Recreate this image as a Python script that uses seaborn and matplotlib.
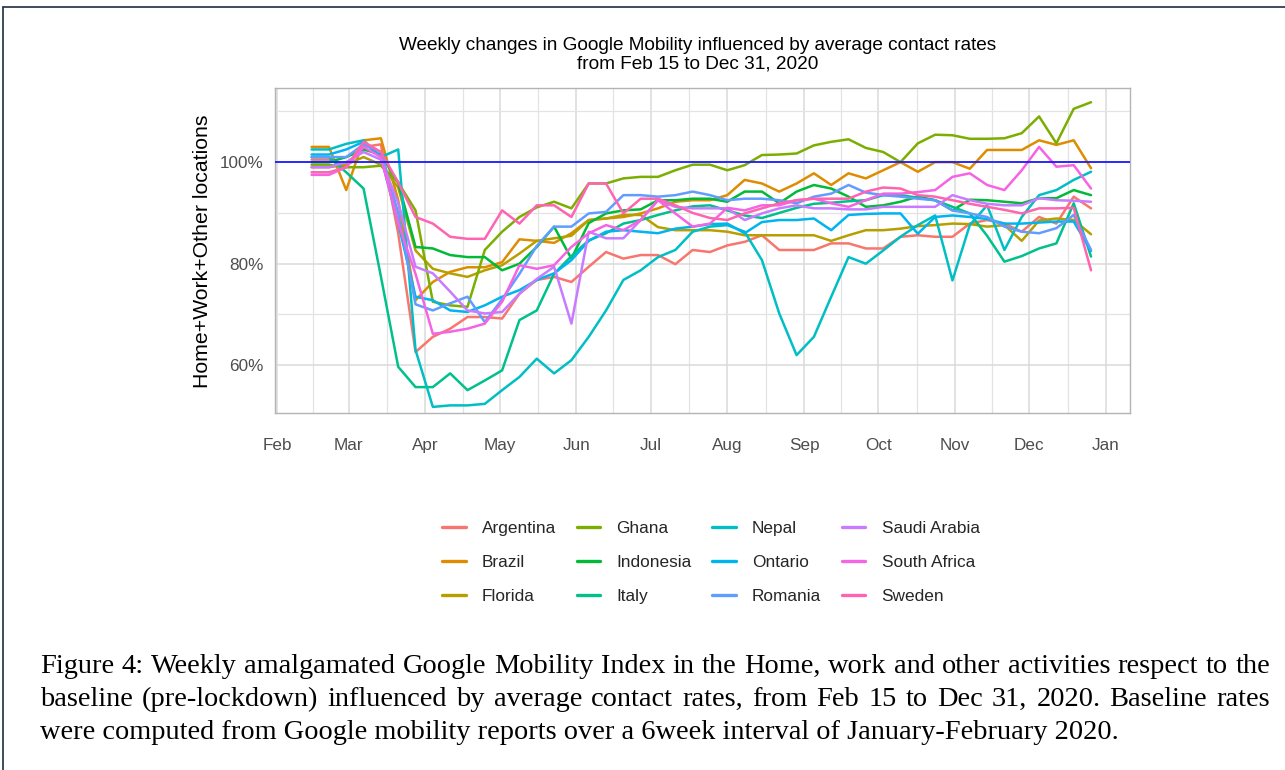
import numpy as np
import pandas as pd
import matplotlib
matplotlib.use("Agg")
import matplotlib.pyplot as plt
import matplotlib.dates as mdates
from matplotlib.lines import Line2D
import seaborn as sns

# --- dados (índice semanal, % da linha de base) ---
start_date = "2020-02-15"
n_weeks = 46

regions = ["Argentina", "Brazil", "Florida", "Ghana", "Indonesia", "Italy",
           "Nepal", "Ontario", "Romania", "Saudi Arabia", "South Africa", "Sweden"]

argentina = [100.5, 100.5, 99.5, 103, 103.5, 86, 62.6, 65.6, 67.2, 69.5, 69.5, 69.2, 74.1, 76.8, 77.4, 76.4,
             79.4, 82.3, 81, 81.7, 81.7, 79.9, 82.7, 82.3, 83.6, 84.3, 85.6, 82.7, 82.7, 82.7, 84, 84,
             83, 83, 85.3, 85.6, 85.3, 85.3, 87.9, 88.6, 87.9, 86.3, 89.2, 87.9, 93.2, 90.9]
brazil = [103, 103, 94.5, 104.3, 104.7, 92.5, 72.8, 76.4, 78.4, 79.3, 79.3, 80.3, 84.8, 84.5, 84.1, 86,
          88.6, 88.9, 89.2, 89.9, 90.9, 92.2, 92.5, 92.5, 93.5, 96.5, 95.8, 94.2, 95.8, 97.8, 95.5, 97.8,
          96.8, 98.4, 100, 98.1, 100, 100, 98.7, 102.4, 102.4, 102.4, 104.3, 103.4, 104.3, 98.8]
florida = [99, 99, 99.5, 101, 99.5, 95, 82.6, 79, 78.1, 77.4, 78.7, 79.7, 82, 84.5, 85, 85.5,
           88.6, 88.9, 89.6, 89.6, 87.2, 86.6, 86.6, 86.6, 86.3, 85.6, 85.6, 85.6, 85.6, 85.6, 84.5, 85.6,
           86.6, 86.6, 86.9, 87.4, 87.6, 87.9, 87.8, 87.3, 87.6, 84.5, 88.5, 88.9, 88.6, 85.8]
ghana = [99.5, 99.5, 99, 99, 99.3, 96, 90.5, 72.5, 71.8, 71.5, 82.7, 86.3, 89.2, 91.1, 92.2, 90.9,
         95.8, 95.8, 96.8, 97.1, 97.1, 98.4, 99.5, 99.5, 98.4, 99.4, 101.4, 101.5, 101.7, 103.3, 104, 104.5,
         102.8, 102, 100, 103.7, 105.4, 105.3, 104.6, 104.6, 104.7, 105.7, 109, 103.7, 110.5, 111.8]
indonesia = [100, 100, 101, 102.5, 101.5, 96, 83.3, 83, 81.7, 81.3, 81.3, 78.7, 80, 83.3, 87.3, 81,
             88, 89.9, 90.5, 90.7, 92.5, 92.5, 92.8, 92.8, 92.2, 94.2, 94.2, 91.9, 94.2, 95.5, 94.8, 93.2,
             91.2, 91.5, 92.2, 93.2, 92.5, 90.5, 92.6, 92.5, 92.2, 91.9, 92.9, 92.9, 94.5, 93.5]
italy = [101, 101, 98, 94.8, 77.5, 59.7, 55.7, 55.7, 58.4, 55.1, 57, 59, 68.9, 70.8, 78, 81.5,
         84.6, 86, 87.9, 88.6, 89.6, 90.5, 91.3, 91.5, 90.5, 89.5, 89, 90, 91, 91.8, 92, 92.3,
         92.5, 93.5, 93.5, 93, 92.5, 91.2, 89.9, 85.5, 80.4, 81.5, 83, 84, 91.9, 81.4]
nepal = [102.5, 102.5, 103.6, 104.3, 101, 102.5, 63, 51.8, 52.1, 52.1, 52.4, 55.1, 57.7, 61.3, 58.4, 61,
         65.6, 70.8, 76.8, 78.7, 81.3, 82.7, 86.3, 87.3, 87.6, 86.3, 80.7, 70.2, 62, 65.6, 73.5, 81.3,
         80, 82.6, 85.3, 87.6, 89.5, 76.7, 87.6, 91.5, 82.7, 89.2, 93.5, 94.5, 96.5, 98.1]
ontario = [101.5, 101.5, 102.5, 104, 101, 88, 73.5, 72.8, 70.8, 70.5, 71.8, 73.5, 74.8, 76.8, 78.1, 80.7,
           84.5, 86.3, 86.6, 86.3, 86, 86.9, 87.3, 87.8, 87.9, 86, 88.2, 88.6, 88.6, 88.9, 86.6, 89.6,
           89.8, 89.9, 89.9, 85.9, 89.2, 89.5, 89.2, 88.8, 87.9, 87.9, 88.1, 88.3, 88.3, 82.5]
romania = [101, 101, 101, 103.5, 102, 90, 72, 70.8, 72.2, 73.5, 68.5, 73, 78, 83.5, 87.3, 87.3,
           89.9, 90.2, 93.5, 93.5, 93.2, 93.5, 94.2, 93.5, 92.5, 92.8, 92.8, 92.5, 91.9, 93.2, 93.8, 95.5,
           94, 93.5, 93.2, 92.8, 92.5, 90.5, 89.9, 89.2, 87.3, 86.3, 86, 87, 89.6, 82.7]
saudi_arabia = [99, 99, 100, 102, 100.5, 92, 79.4, 78.1, 74.5, 70.8, 70.2, 70.5, 74.1, 77, 79.4, 68.2,
                86.3, 85, 85, 88.6, 92.5, 91.2, 90.9, 90.9, 90.9, 88.6, 89.9, 90.9, 91.5, 90.9, 90.9, 90.7,
                90.7, 91.2, 91.2, 91.2, 91.2, 93.5, 92.5, 91.8, 91.5, 91.5, 92.9, 92.5, 92.4, 92.2]
south_africa = [97.5, 97.5, 99, 103, 101, 88, 78, 66.2, 66.6, 67.2, 68.2, 72.5, 79.7, 79, 79.7, 83.3,
                86, 87.6, 86.6, 88.6, 92.5, 89.9, 87.3, 87.9, 91, 90.5, 91.5, 91.5, 92.5, 92.8, 91.9, 91.2,
                92.5, 93.8, 93.8, 94.1, 94.5, 97.1, 97.8, 95.5, 94.5, 98.4, 103, 99.1, 99.4, 94.8]
sweden = [98, 98, 99, 104, 102, 96, 89.2, 87.9, 85.3, 84.9, 84.9, 90.5, 87.9, 91.5, 91.5, 89.2,
          95.8, 95.8, 89.9, 92.8, 92.8, 91.5, 90, 89, 88.6, 89.9, 90.9, 91.9, 92.5, 92.8, 92.8, 92.8,
          94.2, 95, 94.8, 93.5, 93.2, 92.5, 91.8, 91.2, 90.6, 89.9, 90.9, 90.9, 91, 78.7]

palette = ["#F8766D", "#DE8C00", "#B79F00", "#7CAE00", "#00BA38", "#00C08B",
           "#00BFC4", "#00B4F0", "#619CFF", "#C77CFF", "#F564E3", "#FF64B0"]

title_lines = ["Weekly changes in Google Mobility influenced by average contact rates",
               "from Feb 15 to Dec 31, 2020"]
y_title = "Home+Work+Other locations"
caption = [
    "Figure 4: Weekly amalgamated Google Mobility Index in the Home, work and other activities respect to the",
    "baseline (pre-lockdown) influenced by average contact rates, from Feb 15 to Dec 31, 2020. Baseline rates",
    "were computed from Google mobility reports over a 6week interval of January-February 2020.",
]

# --- tabela longa ---
weeks = pd.date_range(start_date, periods=n_weeks, freq="7D")
series = [argentina, brazil, florida, ghana, indonesia, italy,
          nepal, ontario, romania, saudi_arabia, south_africa, sweden]
df = pd.DataFrame({"date": np.tile(weeks, len(regions)),
                   "region": np.repeat(regions, n_weeks),
                   "value": np.concatenate(series)})

sns.set_theme(style="white")
plt.rcParams['font.family'] = ['Liberation Sans', 'DejaVu Sans']

W, H = 1285, 770
fig = plt.figure(figsize=(W / 100, H / 100), dpi=100)

# moldura da página
border = "#2E3E50"
fig.add_artist(Line2D([3 / W, 3 / W], [0, 1 - 7 / H], color=border, lw=1.3))
fig.add_artist(Line2D([3 / W, 1], [1 - 7 / H, 1 - 7 / H], color=border, lw=1.3))

ax = fig.add_axes([275 / W, 1 - 413 / H, 855 / W, 325 / H])
sns.lineplot(data=df, x="date", y="value", hue="region", hue_order=regions,
             palette=palette, linewidth=1.8, ax=ax, legend=False, zorder=3)
ax.axhline(100, color="#1A1AFF", lw=1.3, zorder=4)

# eixos
ax.set_yticks([60, 80, 100])
ax.set_yticks([50, 70, 90, 110], minor=True)
ax.set_yticklabels(["60%", "80%", "100%"])
ax.set_ylim(50.6, 114.6)

months = pd.date_range("2020-02-01", "2021-01-01", freq="MS")
mids = [m + (n - m) / 2 for m, n in zip(months[:-1], months[1:])]
ax.set_xticks(mdates.date2num(months))
ax.set_xticks(mdates.date2num(mids), minor=True)
ax.xaxis.set_major_formatter(mdates.DateFormatter("%b"))
ax.set_xlim(mdates.date2num(pd.Timestamp("2020-01-31 05:00")),
            mdates.date2num(pd.Timestamp("2021-01-10 18:00")))

ax.grid(which="major", color="#DADADA", lw=1.1, zorder=0)
ax.grid(which="minor", color="#E3E3E3", lw=0.9, zorder=0)
ax.set_axisbelow(True)
for s in ax.spines.values():
    s.set_color("#B3B3B3")
    s.set_linewidth(1.0)
ax.tick_params(which="major", length=5, width=0.8, color="#B3B3B3",
               labelsize=12.3, labelcolor="#4D4D4D")
ax.tick_params(axis="x", pad=13)
ax.tick_params(axis="y", pad=3)
ax.tick_params(which="minor", length=0)
ax.set_xlabel("")
ax.set_ylabel("")

# títulos
for i, t in enumerate(title_lines):
    fig.text(698 / W, 1 - (45 + 19 * i) / H, t, ha="center", va="center",
             fontsize=13.7, color="black")
fig.text(203 / W, 1 - 251 / H, y_title, rotation=90, ha="center", va="center",
         fontsize=15.3, color="black")

# legenda
handles = [Line2D([0], [0], color=c, lw=2.4) for c in palette]
fig.legend(handles, regions, ncol=4, loc="center", bbox_to_anchor=(711 / W, 1 - 562 / H),
           frameon=False, fontsize=12.4, handlelength=1.35, handletextpad=0.95,
           columnspacing=1.2, labelspacing=1.1)

# legenda da figura (texto justificado)
fig.canvas.draw()
r = fig.canvas.get_renderer()
cap_font = dict(fontsize=20.4, family="Liberation Serif", color="black", va="baseline")
x0, x1 = 40, 1270
for i, line in enumerate(caption):
    yb = 1 - (673 + 33 * i) / H
    if i == len(caption) - 1:
        fig.text(x0 / W, yb, line, ha="left", **cap_font)
        continue
    words = line.split(" ")
    tx = [fig.text(0, yb, w, ha="left", **cap_font) for w in words]
    widths = [t.get_window_extent(r).width for t in tx]
    gap = (x1 - x0 - sum(widths)) / (len(words) - 1)
    xp = x0
    for t, w in zip(tx, widths):
        t.set_x(xp / W)
        xp += w + gap

fig.savefig("out.png", dpi=100, facecolor="white")
